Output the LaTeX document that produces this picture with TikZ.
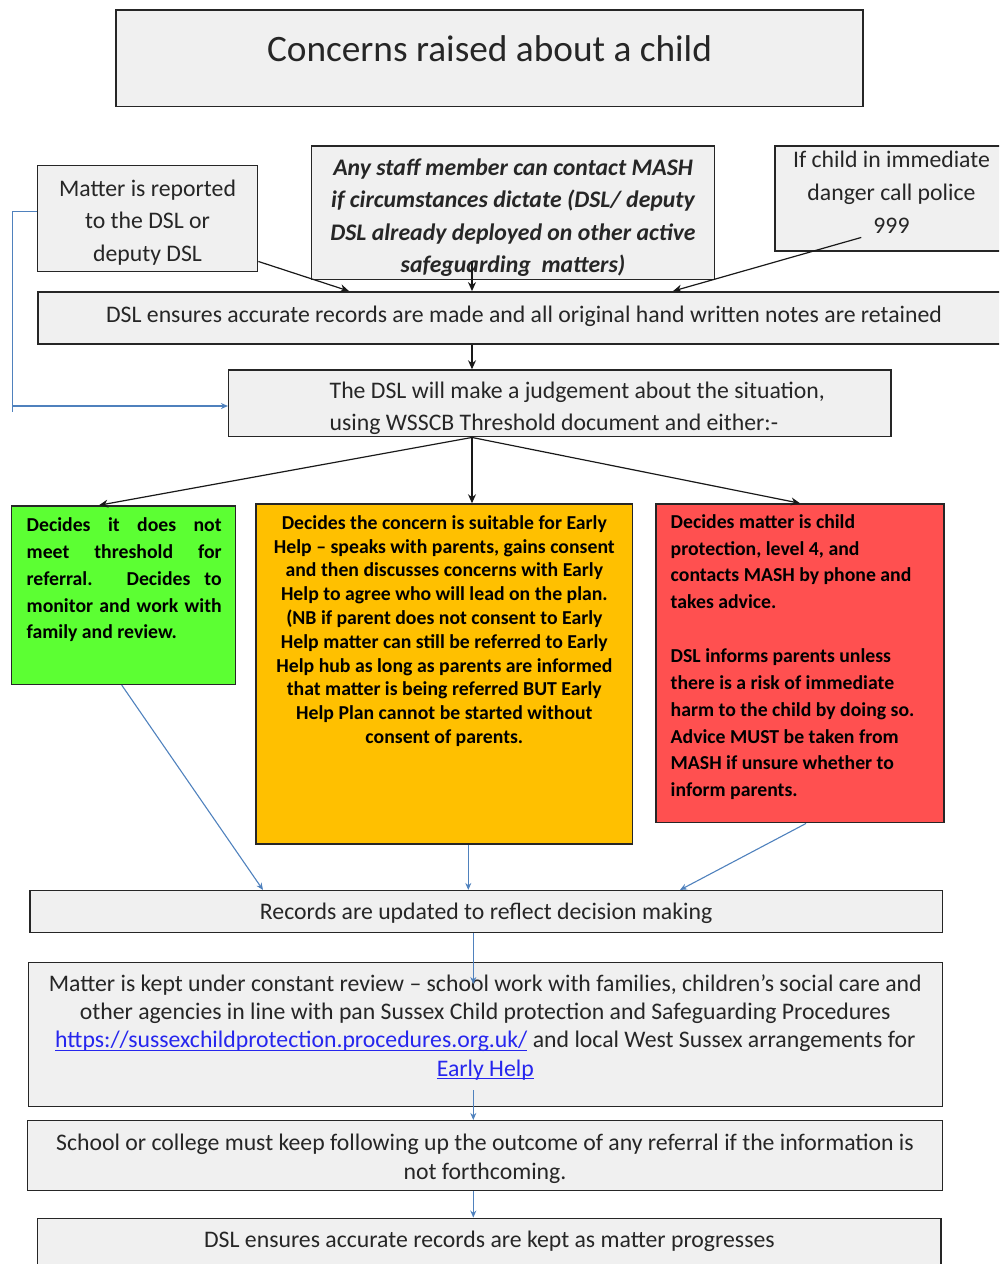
\documentclass[tikz,border=0pt]{standalone}
\usepackage{fontspec}
\setmainfont{Carlito}
\usetikzlibrary{arrows.meta,calc}
\definecolor{boxgray}{HTML}{F0F0F0}
\definecolor{txtc}{HTML}{262626}
\definecolor{arrblue}{HTML}{4F81BD}
\definecolor{greenbox}{HTML}{5CFF33}
\definecolor{orangebox}{HTML}{FFC000}
\definecolor{redbox}{HTML}{FF5050}
\definecolor{linkc}{HTML}{2626EE}
% W H firstbaseline baselineskip content
\newcommand\bt[5]{\vbox to #2pt{\hsize=#1pt\relax\parindent=0pt\parskip=0pt\lineskiplimit=-\maxdimen\baselineskip=#4pt\relax\hbox{}\kern\dimexpr#3pt-#4pt\relax #5\par\vfil}}
\newcommand\lnk[1]{\textcolor{linkc}{\setbox0\hbox{#1}\rlap{\rule[-3pt]{\wd0}{1.2pt}}\box0}}
\tikzset{
  gb/.style={draw=black!85, line width=1.5pt, fill=boxgray, inner sep=0pt, text=txtc,
             font=\fontsize{23.75}{28}\selectfont},
  cb/.style={draw=black!85, line width=1.5pt, inner sep=0pt, text=black,
             font=\fontsize{19.75}{24}\selectfont\bfseries},
  blk/.style={draw=black!90, line width=1.2pt, -{Stealth[length=9pt,width=8pt]}},
  bline/.style={draw=arrblue, line width=1.1pt},
  blu/.style={bline, -{Stealth[length=7pt,width=6pt]}}
}
\begin{document}
\begin{tikzpicture}[x=1pt,y=-1pt]
\useasboundingbox (0,0) rectangle (999,1264);
\clip (0,0) rectangle (999,1264);

\node[gb, font=\fontsize{37.3}{44}\selectfont] (title) at (489.5,58.35)
  {\bt{747}{96.7}{51}{44}{\centering Concerns raised about a child}};

\node[gb] (rep) at (147.5,218.7)
  {\bt{219.6}{106}{30.3}{32.5}{\centering Matter is reported\\ to the DSL or\\ deputy DSL}};

\node[gb, font=\fontsize{23.75}{28}\selectfont\bfseries\itshape] (staff) at (513,212.65)
  {\bt{402.6}{133.3}{29}{32.5}{\centering Any staff member can contact MASH\\ if circumstances dictate (DSL/ deputy\\ DSL already deployed on other active\\ safeguarding\ \ matters)}};

\node[gb] (child) at (891.5,198.5)
  {\bt{233}{105}{21}{33}{\centering If child in immediate\\ danger call police\\ 999}};

\node[gb] (dsl1) at (524,318)
  {\bt{972}{52.3}{31}{33}{\centering DSL ensures accurate records are made and all original hand written notes are retained}};

\node[gb] (will) at (559.85,403.35)
  {\bt{662.3}{66.7}{28}{32.7}{\raggedright\leftskip=101pt The DSL will make a judgement about the situation,\\ using WSSCB Threshold document and either:-}};

\node[cb, fill=greenbox] (green) at (123.7,595.15)
  {\bt{224}{178.3}{25.7}{26.8}{\raggedright\leftskip=15pt
   \makebox[195pt][s]{Decides it does not}\\
   \makebox[195pt][s]{meet threshold for}\\
   \makebox[195pt][s]{referral. Decides to}\\
   \makebox[195pt][s]{monitor and work with}\\
   family and review.}};

\node[cb, fill=orangebox] (orange) at (444.35,674)
  {\bt{376.7}{340}{25.3}{23.8}{\centering
   Decides the concern is suitable for Early\\
   Help – speaks with parents, gains consent\\
   and then discusses concerns with Early\\
   Help to agree who will lead on the plan.\\
   (NB if parent does not consent to Early\\
   Help matter can still be referred to Early\\
   Help hub as long as parents are informed\\
   that matter is being referred BUT Early\\
   Help Plan cannot be started without\\
   consent of parents.}};

\node[cb, fill=redbox] (red) at (800,663.35)
  {\bt{288}{318.7}{24.3}{26.84}{\raggedright\leftskip=14.7pt
   Decides matter is child\\
   protection, level 4, and\\
   contacts MASH by phone and\\
   takes advice.\\[26.84pt]
   DSL informs parents unless\\
   there is a risk of immediate\\
   harm to the child by doing so.\\
   Advice MUST be taken from\\
   MASH if unsure whether to\\
   inform parents.}};

\node[gb] (rec) at (486.15,911.5)
  {\bt{912.3}{41.6}{28.6}{28.4}{\centering Records are updated to reflect decision making}};

\node[gb] (kept) at (485.3,1034.5)
  {\bt{914}{144.4}{28.7}{28.4}{\centering
   Matter is kept under constant review – school work with families, children’s social care and\\
   other agencies in line with pan Sussex Child protection and Safeguarding Procedures\\
   \lnk{https://sussexchildprotection.procedures.org.uk/} and local West Sussex arrangements for\\
   \lnk{Early Help}}};

\node[gb] (school) at (485,1155.7)
  {\bt{914.6}{70}{30}{28.4}{\centering School or college must keep following up the outcome of any referral if the information is\\ not forthcoming.}};

\node[gb] (dslk) at (489.35,1246.65)
  {\bt{903.3}{56.7}{29.4}{28.4}{\centering DSL ensures accurate records are kept as matter progresses}};

% black connectors
\draw[blk] ($(rep.south east)+(0.3,-11)$) -- (349,0 |- dsl1.north);
\draw[blk] ($(staff.south)+(-41,-19)$) -- (472,0 |- dsl1.north);
\draw[blk] ($(child.south west)+(87,-14.3)$) -- (673,0 |- dsl1.north);
\draw[blk] (472,0 |- dsl1.south) -- (472,0 |- will.north);
\draw[blk] (472,0 |- will.south) -- (99,0 |- green.north);
\draw[blk] (472,0 |- will.south) -- (472,0 |- orange.north);
\draw[blk] (472,0 |- will.south) -- (800,0 |- red.north);

% blue connectors
\draw[bline] (rep.west |- 0,211.7) -- (12.7,211.7) -- (12.7,411.7);
\coordinate (loopend) at (12.7,406);
\draw[blu] (loopend) -- (will.west |- loopend);
\draw[blu] (121.7,0 |- green.south) -- (263,0 |- rec.north);
\draw[blu] (468.3,0 |- orange.south) -- (468.3,0 |- rec.north);
\draw[blu] (806,0 |- red.south) -- (680,0 |- rec.north);
\coordinate (kin) at (473.3,984);
\draw[blu] (473.3,0 |- rec.south) -- (kin);
\coordinate (kout) at (473.3,1090);
\draw[blu] (kout) -- (kout |- school.north);
\draw[blu] (473.3,0 |- school.south) -- (473.3,0 |- dslk.north);
\end{tikzpicture}
\end{document}
